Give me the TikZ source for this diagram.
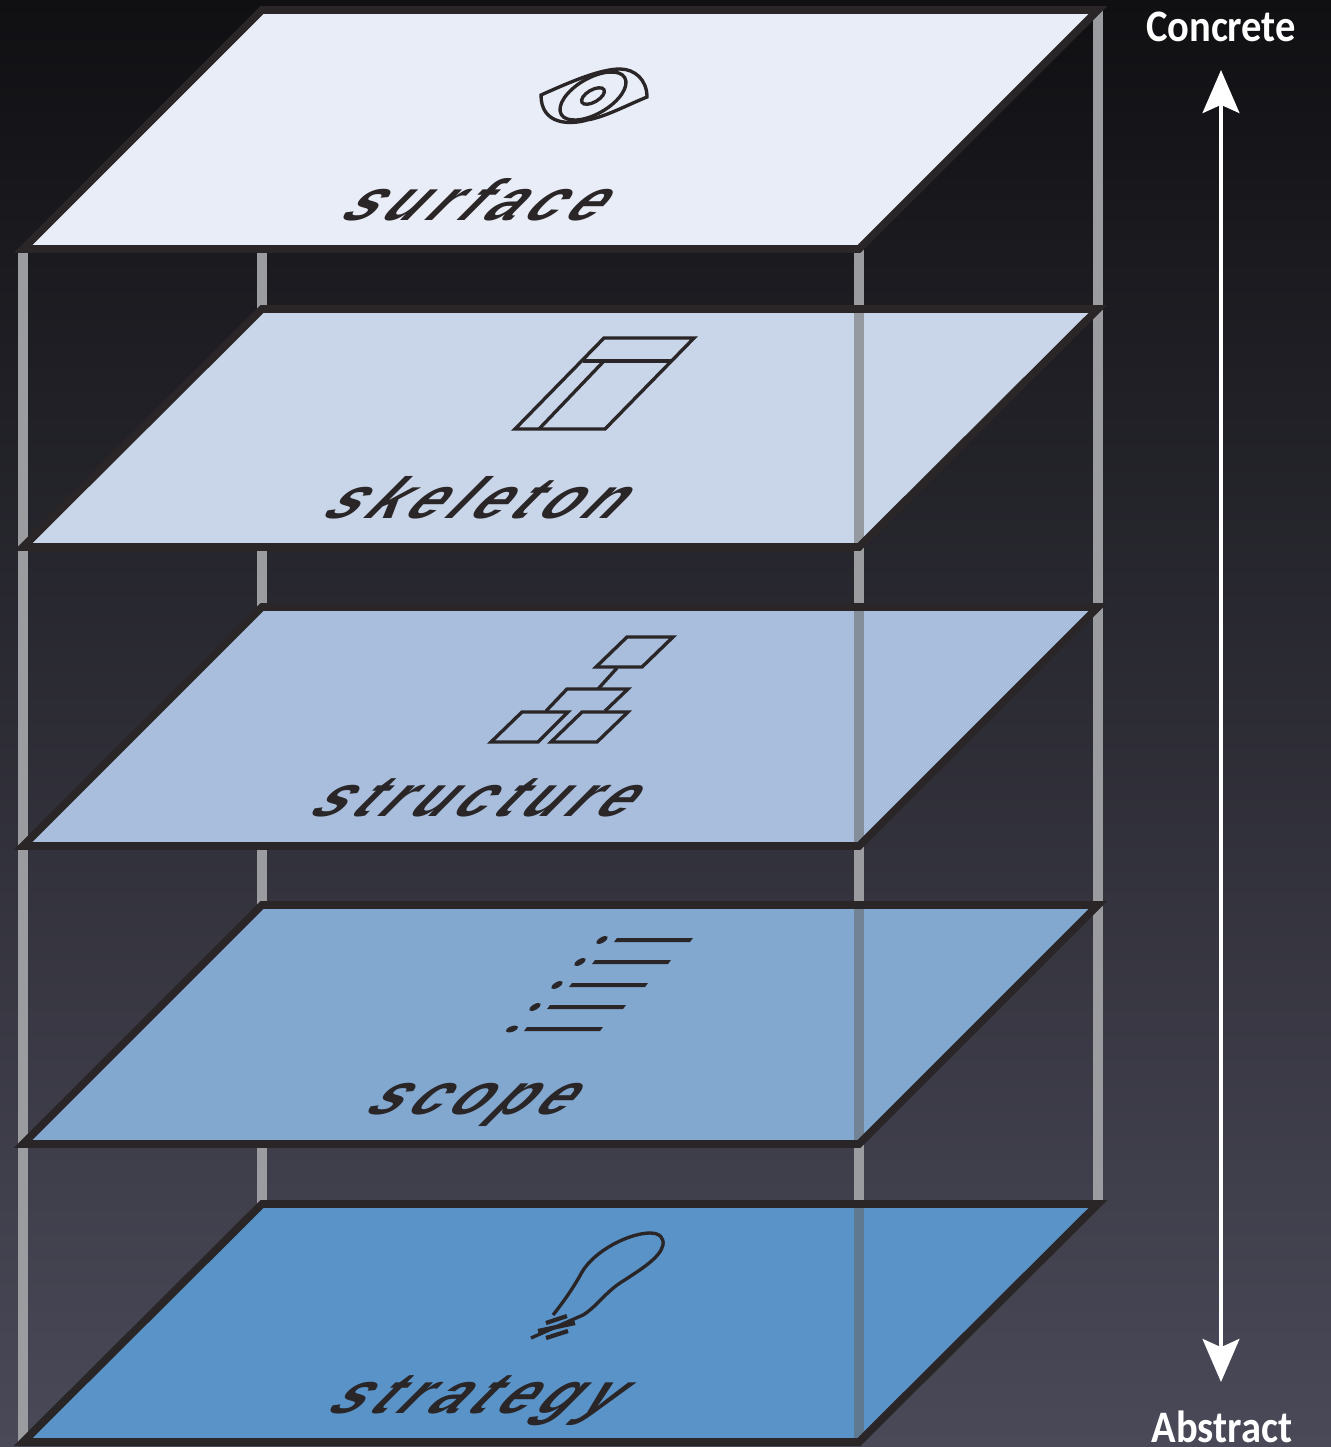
\documentclass[tikz,border=0pt]{standalone}
\usepackage{fontspec}
\usetikzlibrary{arrows.meta}
\newfontfamily\layerfont[LetterSpace=14]{Liberation Sans}
\newfontfamily\endfont[FakeStretch=0.9]{Carlito}
\definecolor{bgtop}{HTML}{101013}
\definecolor{bgbot}{HTML}{4A4958}
\definecolor{rim}{HTML}{2A2526}
\definecolor{post}{HTML}{9B9CA0}
\definecolor{seen}{HTML}{62605A}
\definecolor{surfacecol}{HTML}{E9EDF7}
\definecolor{skeletoncol}{HTML}{C9D5E8}
\definecolor{structurecol}{HTML}{A8BEDC}
\definecolor{scopecol}{HTML}{82A8D0}
\definecolor{strategycol}{HTML}{5A93C8}

\begin{document}
\begin{tikzpicture}[x=0.01cm, y=-0.01cm,
    pole/.style={post, line width=2.9pt},
    polefront/.style={seen, opacity=0.5, line width=2.9pt},
    rimline/.style={rim, line width=2.2pt},
    icon/.style={rim, line width=0.95pt},
    layername/.style={rim, xslant=1, transform shape, inner sep=0pt, anchor=base,
      font=\layerfont\bfseries\fontsize{16.5}{18}\selectfont},
    endname/.style={white, inner sep=0pt, font=\endfont\bfseries\fontsize{12.8}{15}\selectfont}]
  \useasboundingbox (0,0) rectangle (1331,1447);
  \shade[top color=bgtop, bottom color=bgbot] (0,0) rectangle (1331,1447);

  % Poles behind everything
  \draw[pole] (23,249) -- (23,1442);
  \draw[pole] (262,249) -- (262,1204);
  \draw[pole] (859,249) -- (859,1442);
  \draw[pole] (1098,10) -- (1098,1204);

  % Layer 1: strategy
  \fill[strategycol] (23,1442) -- (262,1204) -- (1098,1204) -- (859,1442) -- cycle;
  \draw[polefront] (859,1204) -- (859,1442);
  \draw[rimline] (23,1442) -- (262,1204) -- (1098,1204) -- (859,1442) -- cycle;
  \node[layername] (strategy) at (465,1413) {strategy};
  \draw[icon] (553,1315) .. controls (565,1300) and (575,1285) .. (582,1272)
    .. controls (595,1250) and (630,1233) .. (650,1233)
    .. controls (660,1233) and (664,1238) .. (663,1245)
    .. controls (660,1258) and (640,1270) .. (620,1283)
    .. controls (605,1293) and (595,1308) .. (583,1315) -- (531,1338);
  \draw[icon, line width=1.2pt] (546,1323) -- (567,1316);
  \draw[icon, line width=1.2pt] (538,1331) -- (575,1323);
  \draw[icon, line width=1.2pt] (546,1338) -- (568,1331);

  % Layer 2: scope
  \fill[scopecol] (23,1144) -- (262,905) -- (1098,905) -- (859,1144) -- cycle;
  \draw[polefront] (859,905) -- (859,1144);
  \draw[rimline] (23,1144) -- (262,905) -- (1098,905) -- (859,1144) -- cycle;
  \node[layername] (scope) at (462,1114) {scope};
  \fill[rim] (617,938) -- (693,938) -- (690,942) -- (614,942) -- cycle;
  \fill[rim] (595,960) -- (671,960) -- (668,964) -- (592,964) -- cycle;
  \fill[rim] (572,983) -- (648,983) -- (645,987) -- (569,987) -- cycle;
  \fill[rim] (550,1005) -- (626,1005) -- (623,1009) -- (547,1009) -- cycle;
  \fill[rim] (527,1027) -- (603,1027) -- (600,1031) -- (524,1031) -- cycle;
  \fill[rim] (602,940) circle[x radius=6.5, y radius=2.8, rotate=30];
  \fill[rim] (580,962) circle[x radius=6.5, y radius=2.8, rotate=30];
  \fill[rim] (557,985) circle[x radius=6.5, y radius=2.8, rotate=30];
  \fill[rim] (535,1007) circle[x radius=6.5, y radius=2.8, rotate=30];
  \fill[rim] (512,1029) circle[x radius=6.5, y radius=2.8, rotate=20];

  % Layer 3: structure
  \fill[structurecol] (23,846) -- (262,607) -- (1098,607) -- (859,846) -- cycle;
  \draw[polefront] (859,607) -- (859,846);
  \draw[rimline] (23,846) -- (262,607) -- (1098,607) -- (859,846) -- cycle;
  \node[layername] (structure) at (464,816) {structure};
  \draw[icon] (627,637) -- (673,637) -- (642,667) -- (596,667) -- cycle;
  \draw[icon] (617,668) -- (598,689);
  \draw[icon] (546,711) -- (567,689) -- (628,689) -- (605,711);
  \draw[icon] (522,712) -- (568,712) -- (538,742) -- (491,742) -- cycle;
  \draw[icon] (582,712) -- (628,712) -- (597,742) -- (551,742) -- cycle;

  % Layer 4: skeleton
  \fill[skeletoncol] (23,547) -- (262,309) -- (1098,309) -- (859,547) -- cycle;
  \draw[polefront] (859,309) -- (859,547);
  \draw[rimline] (23,547) -- (262,309) -- (1098,309) -- (859,547) -- cycle;
  \node[layername] (skeleton) at (465,518) {skeleton};
  \draw[icon] (604,338) -- (694,338) -- (605,429) -- (515,429) -- cycle;
  \draw[icon] (583,361) -- (672,361);
  \draw[icon] (604,361) -- (539,429);

  % Layer 5: surface
  \fill[surfacecol] (23,249) -- (262,10) -- (1098,10) -- (859,249) -- cycle;
  \draw[rimline] (23,249) -- (262,10) -- (1098,10) -- (859,249) -- cycle;
  \node[layername] (surface) at (464,220) {surface};
  \draw[icon] (541,95) .. controls (570,82) and (600,69) .. (620,69)
    .. controls (635,69) and (647,80) .. (647,97)
    .. controls (625,106) and (605,117) .. (587,120)
    .. controls (570,125) and (541,125) .. (541,95) -- cycle;
  \draw[icon] (593,96) circle[x radius=36.7, y radius=17.9, rotate=30];
  \draw[icon] (593,96) circle[x radius=12.7, y radius=6.1, rotate=30];

  % Concrete to abstract axis
  \node[endname] (concrete) at (1221,27) {Concrete};
  \node[endname] (abstract) at (1222,1427) {Abstract};
  \coordinate (axistop) at (1221,70);
  \coordinate (axisbot) at (1221,1382);
  \draw[{Stealth[length=12.2pt, width=10.4pt, inset=2.3pt]}-{Stealth[length=12.2pt, width=10.4pt, inset=2.3pt]}, white, line width=1.4pt] (axistop) -- (axisbot);
\end{tikzpicture}
\end{document}
